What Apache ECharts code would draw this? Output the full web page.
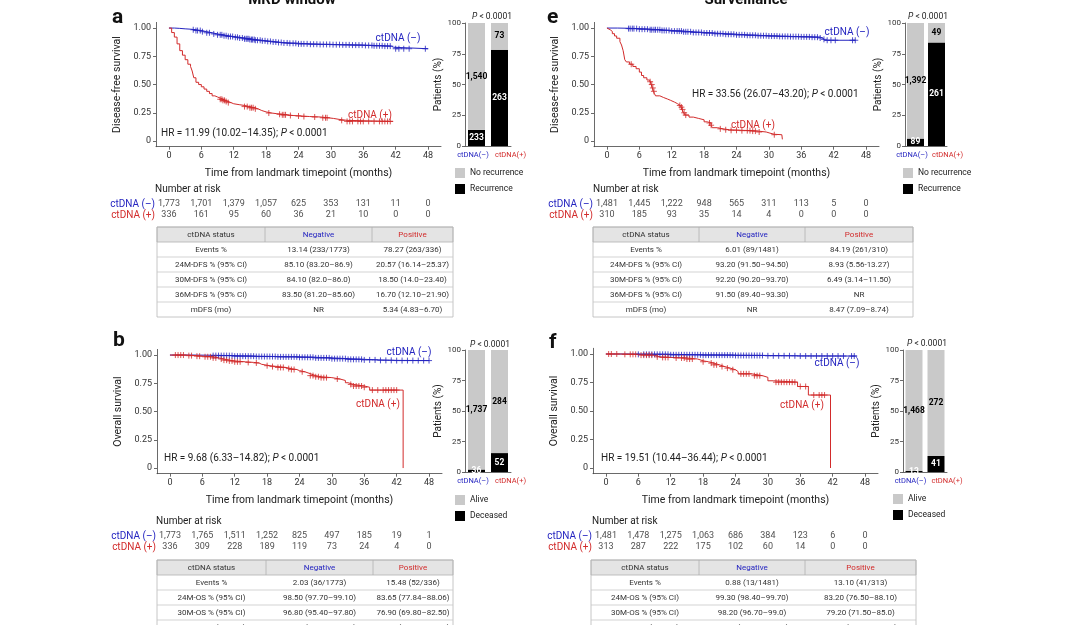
<!DOCTYPE html>
<html>
<head>
<meta charset="utf-8">
<script src="https://cdn.jsdelivr.net/npm/echarts/dist/echarts.min.js"></script>
<style>
html, body { margin: 0; padding: 0; background: #fff; }
#chart { width: 1070px; height: 625px; }
</style>
</head>
<body>
<div id="chart"></div>
<script>
var FF = 'Roboto, "Noto Sans", sans-serif'
var BLUE = '#2424c0'
var RED = '#d22b2b'
var GREY = '#c9c9c9'
var AX = '#444'

var monthTicks = [0, 6, 12, 18, 24, 30, 36, 42, 48]
var survTicks = [0, 0.25, 0.5, 0.75, 1]
var riskGroups = ['ctDNA (–)', 'ctDNA (+)']
var barGroups = ['ctDNA(–)', 'ctDNA(+)']

// ---- a: DFS, MRD window ----
var dfsMrdNeg = [[0, 1], [1, 0.997], [2, 0.993], [3, 0.99], [4, 0.985], [5, 0.978], [6, 0.968], [7, 0.958], [8, 0.948], [9, 0.94], [10, 0.932], [11, 0.925], [12, 0.918], [13, 0.912], [14, 0.905], [15, 0.898], [16, 0.892], [17, 0.887], [18, 0.882], [19, 0.877], [20, 0.872], [21, 0.868], [22, 0.865], [24, 0.86], [26, 0.857], [28, 0.855], [30, 0.853], [32, 0.851], [34, 0.849], [36, 0.846], [38, 0.843], [40, 0.84], [41.2, 0.83], [41.6, 0.817], [48, 0.817]]
var dfsMrdNegCens = [4.5, 5, 5.3, 5.8, 6.2, 7, 7.5, 8.3, 9, 9.5, 9.8, 10.2, 10.6, 11, 11.4, 11.8, 12.3, 12.7, 13.1, 13.6, 14, 14.3, 14.5, 14.8, 15, 15.3, 15.5, 15.8, 16, 16.4, 16.9, 17.3, 17.8, 18.3, 18.8, 19.3, 19.8, 20.3, 20.8, 21.3, 21.9, 22.4, 23, 23.5, 24, 24.5, 25, 25.6, 26.2, 26.8, 27.4, 28, 28.6, 29.2, 29.8, 30.4, 31, 31.6, 32.2, 32.8, 33.4, 34, 34.6, 35.2, 35.8, 36.4, 37, 37.6, 38, 38.5, 39, 39.5, 40, 40.5, 41, 42, 42.6, 43.5, 44.5, 47.5]
var dfsMrdPos = [[0, 1], [0.5, 0.96], [1, 0.92], [1.5, 0.86], [2, 0.8], [2.5, 0.76], [3, 0.72], [3.5, 0.68], [4, 0.66], [4.3, 0.62], [4.6, 0.56], [5, 0.52], [5.5, 0.5], [6, 0.48], [6.5, 0.46], [7, 0.44], [7.5, 0.42], [8, 0.4], [8.5, 0.39], [9, 0.38], [9.5, 0.37], [10, 0.36], [10.5, 0.35], [11, 0.34], [11.5, 0.33], [12, 0.322], [13, 0.315], [14, 0.305], [15, 0.295], [15.8, 0.285], [16.5, 0.27], [17.2, 0.258], [18, 0.248], [19, 0.242], [20, 0.237], [21, 0.232], [22, 0.226], [23, 0.222], [24.5, 0.217], [26, 0.213], [28, 0.206], [29.5, 0.2], [30.5, 0.192], [31.5, 0.183], [33, 0.174], [41.5, 0.174]]
var dfsMrdPosCens = [9.5, 9.8, 10, 10.3, 10.6, 11, 14, 14.5, 15, 15.3, 15.6, 16, 18.5, 20.5, 21, 21.3, 21.6, 22.5, 24, 25, 27, 28.5, 29, 29.3, 32, 33, 33.5, 34, 35, 35.5, 36, 37, 38, 39, 39.5, 40, 40.5, 41]
var riskDfsMrdNeg = [1773, 1701, 1379, 1057, 625, 353, 131, 11, 0]
var riskDfsMrdPos = [336, 161, 95, 60, 36, 21, 10, 0, 0]
var barDfsMrdEvents = [233, 263]
var barDfsMrdFree = [1540, 73]
var tableDfsMrd = [
  ['Events %', '13.14 (233/1773)', '78.27 (263/336)'],
  ['24M-DFS % (95% CI)', '85.10 (83.20–86.9)', '20.57 (16.14–25.37)'],
  ['30M-DFS % (95% CI)', '84.10 (82.0–86.0)', '18.50 (14.0–23.40)'],
  ['36M-DFS % (95% CI)', '83.50 (81.20–85.60)', '16.70 (12.10–21.90)'],
  ['mDFS (mo)', 'NR', '5.34 (4.83–6.70)']
]

// ---- e: DFS, surveillance ----
var dfsSurvNeg = [[0, 1], [2, 0.998], [4, 0.995], [6, 0.99], [8, 0.985], [10, 0.979], [12, 0.973], [14, 0.967], [16, 0.961], [18, 0.956], [20, 0.95], [22, 0.945], [24, 0.94], [26, 0.936], [28, 0.932], [30, 0.929], [32, 0.926], [34, 0.924], [36, 0.922], [38, 0.919], [39.5, 0.912], [40, 0.9], [40.3, 0.892], [46, 0.892]]
var dfsSurvNegCens = [4, 4.3, 4.7, 5, 5.5, 6, 6.5, 7, 7.5, 8, 8.3, 8.7, 9, 9.4, 9.8, 10.2, 10.6, 11, 11.5, 12, 12.5, 13, 13.4, 13.8, 14.2, 14.6, 15, 15.5, 16, 16.5, 17, 17.5, 18, 18.5, 19, 19.5, 20, 20.5, 21, 21.5, 22, 22.5, 23, 23.5, 24, 24.5, 25, 25.5, 26, 26.5, 27, 27.5, 28, 28.5, 29, 29.5, 30, 30.5, 31, 31.5, 32, 32.5, 33, 33.5, 34, 34.5, 35, 35.5, 36, 36.5, 37, 37.5, 38, 38.5, 39, 39.5, 40.2, 40.8, 41.5, 42.3, 45.5, 46]
var dfsSurvPos = [[0, 1], [0.3, 0.985], [0.6, 0.97], [1, 0.95], [1.4, 0.93], [1.8, 0.91], [2.4, 0.88], [2.7, 0.85], [3, 0.8], [3.3, 0.72], [3.6, 0.7], [4.2, 0.68], [4.8, 0.66], [5.4, 0.64], [6, 0.61], [6.4, 0.58], [6.8, 0.56], [7.4, 0.54], [7.9, 0.525], [8.2, 0.5], [8.4, 0.47], [8.6, 0.44], [8.8, 0.42], [9, 0.4], [9.8, 0.385], [10.5, 0.372], [11.2, 0.36], [11.8, 0.345], [12.5, 0.33], [13.1, 0.315], [13.6, 0.3], [13.9, 0.28], [14.2, 0.25], [14.5, 0.23], [15.2, 0.212], [16, 0.2], [17, 0.188], [18, 0.17], [18.6, 0.16], [19.3, 0.14], [19.5, 0.118], [20.5, 0.108], [21.5, 0.1], [22.7, 0.095], [25, 0.092], [27, 0.088], [28, 0.08], [29.5, 0.07], [30.2, 0.06], [31, 0.056], [32.4, 0.052], [32.5, 0.015]]
var dfsSurvPosCens = [4.5, 8, 8.3, 8.5, 8.7, 13.5, 13.8, 14, 14.3, 14.6, 19, 19.3, 21, 22, 23, 24, 25, 26, 26.5, 27, 27.5, 28.2, 31]
var riskDfsSurvNeg = [1481, 1445, 1222, 948, 565, 311, 113, 5, 0]
var riskDfsSurvPos = [310, 185, 93, 35, 14, 4, 0, 0, 0]
var barDfsSurvEvents = [89, 261]
var barDfsSurvFree = [1392, 49]
var tableDfsSurv = [
  ['Events %', '6.01 (89/1481)', '84.19 (261/310)'],
  ['24M-DFS % (95% CI)', '93.20 (91.50–94.50)', '8.93 (5.56-13.27)'],
  ['30M-DFS % (95% CI)', '92.20 (90.20–93.70)', '6.49 (3.14–11.50)'],
  ['36M-DFS % (95% CI)', '91.50 (89.40–93.30)', 'NR'],
  ['mDFS (mo)', 'NR', '8.47 (7.09–8.74)']
]

// ---- b: OS, MRD window ----
var osMrdNeg = [[0, 1], [4, 0.998], [8, 0.995], [12, 0.99], [16, 0.987], [20, 0.984], [24, 0.98], [27, 0.975], [30, 0.968], [33, 0.962], [36, 0.957], [39, 0.953], [42, 0.951], [48, 0.951]]
var osMrdNegCens = [8, 8.5, 9, 9.5, 10, 10.5, 11, 11.5, 12, 12.5, 13, 13.5, 14, 14.5, 15, 15.5, 16, 16.5, 17, 17.5, 18, 18.5, 19, 19.5, 20, 20.5, 21, 21.5, 22, 22.5, 23, 23.5, 24, 24.5, 25, 25.5, 26, 26.5, 27, 27.5, 28, 28.5, 29, 29.5, 30, 30.5, 31, 31.5, 32, 32.5, 33, 33.5, 34, 34.5, 35, 35.5, 36, 37, 38, 39, 40, 41, 42, 43, 44, 45, 46, 47, 48]
var osMrdPos = [[0, 1], [3, 0.995], [5, 0.99], [6, 0.985], [8, 0.975], [9, 0.965], [10, 0.955], [11, 0.948], [12, 0.94], [14, 0.935], [15.5, 0.93], [16.5, 0.918], [17, 0.906], [18.5, 0.898], [20, 0.89], [21.5, 0.88], [22.5, 0.872], [23.5, 0.862], [24, 0.852], [25, 0.835], [26, 0.818], [27, 0.808], [28, 0.8], [30, 0.788], [31.5, 0.775], [32.5, 0.755], [33, 0.74], [34, 0.726], [36, 0.715], [37, 0.69], [43.2, 0]]
var osMrdPosCens = [1, 1.5, 2, 2.5, 3.5, 4, 5, 5.5, 6.5, 7, 7.5, 8, 8.5, 9.5, 10, 10.5, 11, 11.5, 12, 12.5, 13, 14.5, 16, 18, 19, 20, 20.5, 21, 22, 22.5, 23, 24.5, 26, 26.5, 27, 27.5, 28, 28.5, 29, 31, 33.5, 34, 34.5, 35, 35.5, 36, 37.5, 38.5, 39.5, 40, 40.5, 41, 41.5, 42]
var riskOsMrdNeg = [1773, 1765, 1511, 1252, 825, 497, 185, 19, 1]
var riskOsMrdPos = [336, 309, 228, 189, 119, 73, 24, 4, 0]
var barOsMrdEvents = [36, 52]
var barOsMrdFree = [1737, 284]
var tableOsMrd = [
  ['Events %', '2.03 (36/1773)', '15.48 (52/336)'],
  ['24M-OS % (95% CI)', '98.50 (97.70–99.10)', '83.65 (77.84–88.06)'],
  ['30M-OS % (95% CI)', '96.80 (95.40–97.80)', '76.90 (69.80–82.50)'],
  ['36M-OS % (95% CI)', '95.70 (93.90–97.00)', '71.50 (63.60–78.00)']
]

// ---- f: OS, surveillance ----
var osSurvNeg = [[0, 1], [6, 0.997], [12, 0.993], [18, 0.99], [24, 0.987], [30, 0.984], [36, 0.982], [46.5, 0.982]]
var osSurvNegCens = [6, 7, 7.5, 8, 8.5, 9, 9.5, 10, 10.5, 11, 11.5, 12, 12.5, 13, 13.5, 14, 14.5, 15, 15.5, 16, 16.5, 17, 17.5, 18, 18.5, 19, 19.5, 20, 20.5, 21, 21.5, 22, 22.5, 23, 23.5, 24, 24.5, 25, 25.5, 26, 26.5, 27, 27.5, 28, 28.5, 29, 30, 31, 32, 33, 34, 35, 36, 37, 38, 39, 40, 41, 42, 43, 44, 45.5, 46]
var osSurvPos = [[0, 1], [3, 0.997], [6, 0.99], [9, 0.975], [10, 0.97], [12, 0.965], [15, 0.956], [17, 0.94], [18, 0.932], [19, 0.92], [20, 0.905], [21, 0.89], [22, 0.876], [23, 0.862], [24, 0.845], [24.5, 0.826], [27, 0.81], [29, 0.795], [30, 0.765], [31, 0.753], [35.5, 0.715], [37.5, 0.64], [41.6, 0]]
var osSurvPosCens = [0.5, 1, 2, 3.5, 4.5, 5, 5.5, 6.5, 7, 7.5, 8, 8.5, 9.5, 10.5, 11, 11.5, 13, 14, 14.5, 15, 15.5, 16, 18, 19.5, 20, 20.5, 21.5, 22.5, 23.5, 25, 25.5, 26, 26.5, 27.5, 28, 28.5, 31.5, 32, 32.5, 33, 33.5, 34, 34.5, 35, 36, 37, 38.5, 39.5, 40, 40.5]
var riskOsSurvNeg = [1481, 1478, 1275, 1063, 686, 384, 123, 6, 0]
var riskOsSurvPos = [313, 287, 222, 175, 102, 60, 14, 0, 0]
var barOsSurvEvents = [13, 41]
var barOsSurvFree = [1468, 272]
var tableOsSurv = [
  ['Events %', '0.88 (13/1481)', '13.10 (41/313)'],
  ['24M-OS % (95% CI)', '99.30 (98.40–99.70)', '83.20 (76.50–88.10)'],
  ['30M-OS % (95% CI)', '98.20 (96.70–99.0)', '79.20 (71.50–85.0)'],
  ['36M-OS % (95% CI)', '97.30 (96.00–98.20)', '73.30 (67.70–80.10)']
]
var tableHeader = ['ctDNA status', 'Negative', 'Positive']

var PLUS = 'path://M5,0L5,10M0,5L10,5'

function fmt (n) { return n.toLocaleString('en-US') }
function survAt (steps, t) {
  var s = 1
  for (var i = 0; i < steps.length; i++) {
    if (steps[i][0] <= t) s = steps[i][1]
    else break
  }
  return s
}

var grids = [], xAxes = [], yAxes = [], series = [], graphics = [], legends = []

function txt (x, y, text, o) {
  o = o || {}
  graphics.push({
    type: 'text', x: x, y: y, silent: true,
    style: {
      text: text, fill: o.color || '#222', fontSize: o.size || 10, fontFamily: FF,
      fontWeight: o.weight || 'normal', fontStyle: o.style || 'normal',
      textAlign: o.align || 'left', textVerticalAlign: 'middle', rich: o.rich
    }
  })
}

function addKM (p) {
  grids.push({ left: p.left, top: p.top, width: 285, height: p.h })
  var gi = grids.length - 1
  xAxes.push({
    type: 'value', gridIndex: gi, min: -2.4, max: 50.4,
    name: 'Time from landmark timepoint (months)', nameLocation: 'middle', nameGap: 21,
    nameTextStyle: { fontSize: 10.5, color: '#222', fontFamily: FF },
    axisLine: { onZero: false, lineStyle: { color: AX, width: 0.8 } },
    axisTick: { customValues: monthTicks, length: 3, lineStyle: { color: AX, width: 0.8 } },
    axisLabel: { customValues: monthTicks, fontSize: 9, color: '#333', margin: 5, fontFamily: FF },
    splitLine: { show: false }
  })
  yAxes.push({
    type: 'value', gridIndex: gi, min: -0.05, max: 1.05,
    name: p.yName, nameLocation: 'middle', nameGap: 33,
    nameTextStyle: { fontSize: 10.5, color: '#222', fontFamily: FF },
    axisLine: { show: true, onZero: false, lineStyle: { color: AX, width: 0.8 } },
    axisTick: { show: true, customValues: survTicks, length: 3, lineStyle: { color: AX, width: 0.8 } },
    axisLabel: {
      customValues: survTicks, fontSize: 9, color: '#333', margin: 5, fontFamily: FF,
      formatter: function (v) { return v === 0 ? '0' : v.toFixed(2) }
    },
    splitLine: { show: false }
  })
  var ai = xAxes.length - 1
  var groups = [[p.neg, p.negCens, BLUE], [p.pos, p.posCens, RED]]
  groups.forEach(function (g) {
    series.push({
      type: 'line', xAxisIndex: ai, yAxisIndex: ai, data: g[0], step: 'end',
      symbol: 'none', silent: true, z: 2, lineStyle: { color: g[2], width: 1 }
    })
    series.push({
      type: 'scatter', xAxisIndex: ai, yAxisIndex: ai, silent: true, z: 3,
      data: g[1].map(function (t) { return [t, survAt(g[0], t)] }),
      symbol: PLUS, symbolSize: 6,
      itemStyle: { color: 'rgba(0,0,0,0)', borderColor: g[2], borderWidth: 1 }
    })
  })
}

function addRisk (p) {
  grids.push({ left: p.left, top: p.riskTop, width: 285, height: 22 })
  var gi = grids.length - 1
  xAxes.push({ type: 'value', gridIndex: gi, min: -2.4, max: 50.4, show: false })
  yAxes.push({
    type: 'category', gridIndex: gi, data: riskGroups, inverse: true,
    axisLine: { show: false }, axisTick: { show: false },
    axisLabel: {
      margin: 1, interval: 0,
      formatter: function (v, i) { return '{' + (i ? 'p' : 'n') + '|' + v + '}' },
      rich: {
        n: { color: BLUE, fontSize: 10, fontFamily: FF },
        p: { color: RED, fontSize: 10, fontFamily: FF }
      }
    }
  })
  var ai = xAxes.length - 1;
  [p.riskNeg, p.riskPos].forEach(function (arr, r) {
    series.push({
      type: 'scatter', xAxisIndex: ai, yAxisIndex: ai, symbolSize: 0, silent: true,
      data: arr.map(function (n, j) { return [monthTicks[j], r, n] }),
      label: {
        show: true, position: 'inside', fontSize: 9, color: '#222', fontFamily: FF,
        formatter: function (q) { return fmt(q.value[2]) }
      }
    })
  })
  txt(p.left - 1, p.riskTop - 9.5, 'Number at risk', { size: 10 })
}

function addBar (p) {
  grids.push({ left: p.bl, top: p.bt, width: p.bw, height: p.bh })
  var gi = grids.length - 1
  xAxes.push({
    type: 'category', gridIndex: gi, data: barGroups,
    axisLine: { lineStyle: { color: AX, width: 0.8 } },
    axisTick: { alignWithLabel: true, length: 3, lineStyle: { color: AX, width: 0.8 } },
    axisLabel: {
      interval: 0, margin: 5,
      formatter: function (v, i) { return '{' + (i ? 'p' : 'n') + '|' + v + '}' },
      rich: {
        n: { color: BLUE, fontSize: 7.5, fontFamily: FF, padding: [0, 7, 0, 0] },
        p: { color: RED, fontSize: 7.5, fontFamily: FF, padding: [0, 0, 0, 22] }
      }
    }
  })
  yAxes.push({
    type: 'value', gridIndex: gi, min: 0, max: 100, interval: 25,
    name: 'Patients (%)', nameLocation: 'middle', nameGap: 18,
    nameTextStyle: { fontSize: 10, color: '#222', fontFamily: FF },
    axisLine: { show: true, lineStyle: { color: AX, width: 0.8 } },
    axisTick: { show: true, length: 3, lineStyle: { color: AX, width: 0.8 } },
    axisLabel: { fontSize: 8, color: '#333', margin: 4, fontFamily: FF },
    splitLine: { show: false }
  })
  var ai = xAxes.length - 1
  var tot = p.ev.map(function (e, i) { return e + p.no[i] })
  series.push({
    name: p.evName, type: 'bar', stack: 's' + gi, barWidth: 17, xAxisIndex: ai, yAxisIndex: ai,
    data: p.ev.map(function (e, i) { return e / tot[i] * 100 }),
    itemStyle: { color: '#000' }, silent: true,
    label: {
      show: true, position: 'inside', color: '#fff', fontWeight: 'bold', fontSize: 8.5, fontFamily: FF,
      formatter: function (q) { return fmt(p.ev[q.dataIndex]) }
    }
  })
  series.push({
    name: p.noName, type: 'bar', stack: 's' + gi, barWidth: 17, xAxisIndex: ai, yAxisIndex: ai,
    data: p.no.map(function (e, i) { return e / tot[i] * 100 }),
    itemStyle: { color: GREY }, silent: true,
    label: {
      show: true, position: 'inside', color: '#000', fontWeight: 'bold', fontSize: 8.5, fontFamily: FF,
      formatter: function (q) { return fmt(p.no[q.dataIndex]) }
    }
  })
  legends.push({
    left: p.lgLeft, top: p.lgTop, padding: 0, orient: 'vertical', data: [p.noName, p.evName],
    icon: 'rect', itemWidth: 10, itemHeight: 10, itemGap: 6, selectedMode: false,
    textStyle: { fontSize: 8.5, color: '#222', fontFamily: FF }
  })
  txt(p.pX, p.pY, '{i|P}{n| < 0.0001}', {
    align: 'center',
    rich: {
      i: { fontStyle: 'italic', fontSize: 8.5, fontFamily: FF, fill: '#222' },
      n: { fontSize: 8.5, fontFamily: FF, fill: '#222' }
    }
  })
}

function addTable (x0, c1, c2, x1, y0, rows) {
  var rh = 15
  var n = rows.length + 1
  graphics.push({ type: 'rect', silent: true, shape: { x: x0, y: y0, width: x1 - x0, height: rh }, style: { fill: '#e4e4e4', stroke: '#b0b0b0', lineWidth: 0.8 } })
  graphics.push({ type: 'rect', silent: true, shape: { x: x0, y: y0, width: x1 - x0, height: rh * n }, style: { fill: 'none', stroke: '#b8b8b8', lineWidth: 0.8 } })
  graphics.push({ type: 'line', silent: true, shape: { x1: c1, y1: y0, x2: c1, y2: y0 + rh }, style: { stroke: '#b0b0b0', lineWidth: 0.8 } })
  graphics.push({ type: 'line', silent: true, shape: { x1: c2, y1: y0, x2: c2, y2: y0 + rh }, style: { stroke: '#b0b0b0', lineWidth: 0.8 } })
  for (var r = 2; r < n; r++) {
    graphics.push({ type: 'line', silent: true, shape: { x1: x0, y1: y0 + rh * r, x2: x1, y2: y0 + rh * r }, style: { stroke: '#c8c8c8', lineWidth: 0.8 } })
  }
  var cx = [(x0 + c1) / 2, (c1 + c2) / 2, (c2 + x1) / 2]
  var hc = ['#333', BLUE, RED]
  tableHeader.forEach(function (h, i) { txt(cx[i], y0 + rh / 2, h, { size: 8, align: 'center', color: hc[i] }) })
  rows.forEach(function (row, r) {
    row.forEach(function (c, i) { txt(cx[i], y0 + rh * (r + 1.5), c, { size: 8, align: 'center', color: '#333' }) })
  })
}

var panels = [
  { left: 156, top: 22.4, h: 124.3, yName: 'Disease-free survival', neg: dfsMrdNeg, negCens: dfsMrdNegCens, pos: dfsMrdPos, posCens: dfsMrdPosCens, riskTop: 198.5, riskNeg: riskDfsMrdNeg, riskPos: riskDfsMrdPos },
  { left: 594, top: 22.4, h: 124.3, yName: 'Disease-free survival', neg: dfsSurvNeg, negCens: dfsSurvNegCens, pos: dfsSurvPos, posCens: dfsSurvPosCens, riskTop: 198.5, riskNeg: riskDfsSurvNeg, riskPos: riskDfsSurvPos },
  { left: 157, top: 349.4, h: 124.3, yName: 'Overall survival', neg: osMrdNeg, negCens: osMrdNegCens, pos: osMrdPos, posCens: osMrdPosCens, riskTop: 530.5, riskNeg: riskOsMrdNeg, riskPos: riskOsMrdPos },
  { left: 593, top: 348.3, h: 125.4, yName: 'Overall survival', neg: osSurvNeg, negCens: osSurvNegCens, pos: osSurvPos, posCens: osSurvPosCens, riskTop: 530.5, riskNeg: riskOsSurvNeg, riskPos: riskOsSurvPos }
]
panels.forEach(addKM)
panels.forEach(addRisk)

addBar({ bl: 465, bt: 23, bw: 46, bh: 123, ev: barDfsMrdEvents, no: barDfsMrdFree, evName: 'Recurrence', noName: 'No recurrence', lgLeft: 455, lgTop: 168, pX: 492, pY: 17 })
addBar({ bl: 905, bt: 23, bw: 42, bh: 123, ev: barDfsSurvEvents, no: barDfsSurvFree, evName: 'Recurrence', noName: 'No recurrence', lgLeft: 903, lgTop: 168, pX: 928, pY: 17 })
addBar({ bl: 465, bt: 350, bw: 46, bh: 122, ev: barOsMrdEvents, no: barOsMrdFree, evName: 'Deceased', noName: 'Alive', lgLeft: 455, lgTop: 495, pX: 490, pY: 345 })
addBar({ bl: 903, bt: 350, bw: 44, bh: 122, ev: barOsSurvEvents, no: barOsSurvFree, evName: 'Deceased', noName: 'Alive', lgLeft: 893, lgTop: 494, pX: 927, pY: 344 })

addTable(157, 265, 372, 453, 227, tableDfsMrd)
addTable(593, 699, 805, 913, 227, tableDfsSurv)
addTable(157, 266, 373, 453, 560, tableOsMrd)
addTable(591, 699, 805, 916, 560, tableOsSurv)

// titles, panel letters, curve labels, hazard ratios
txt(292, 0, 'MRD window', { size: 15, weight: 'bold', align: 'center', color: '#111' })
txt(746, 0, 'Surveillance', { size: 15, weight: 'bold', align: 'center', color: '#111' })
txt(112, 18, 'a', { size: 21, weight: 'bold', color: '#111' })
txt(547, 18, 'e', { size: 21, weight: 'bold', color: '#111' })
txt(113, 341, 'b', { size: 21, weight: 'bold', color: '#111' })
txt(549, 343, 'f', { size: 21, weight: 'bold', color: '#111' })

txt(398, 38, 'ctDNA (–)', { color: BLUE, align: 'center' })
txt(370, 115, 'ctDNA (+)', { color: RED, align: 'center' })
txt(847, 32, 'ctDNA (–)', { color: BLUE, align: 'center' })
txt(753, 125, 'ctDNA (+)', { color: RED, align: 'center' })
txt(409, 352, 'ctDNA (–)', { color: BLUE, align: 'center' })
txt(378, 404, 'ctDNA (+)', { color: RED, align: 'center' })
txt(837, 363, 'ctDNA (–)', { color: BLUE, align: 'center' })
txt(802, 405, 'ctDNA (+)', { color: RED, align: 'center' })

var hrRich = {
  n: { fontSize: 10, fontFamily: FF, fill: '#222' },
  i: { fontSize: 10, fontFamily: FF, fill: '#222', fontStyle: 'italic' }
}
txt(161, 133, '{n|HR = 11.99 (10.02–14.35); }{i|P}{n| < 0.0001}', { rich: hrRich })
txt(692, 94, '{n|HR = 33.56 (26.07–43.20); }{i|P}{n| < 0.0001}', { rich: hrRich })
txt(164, 458, '{n|HR = 9.68 (6.33–14.82); }{i|P}{n| < 0.0001}', { rich: hrRich })
txt(601, 458, '{n|HR = 19.51 (10.44–36.44); }{i|P}{n| < 0.0001}', { rich: hrRich })

var chart = echarts.init(document.getElementById('chart'))
chart.setOption({
  animation: false,
  backgroundColor: '#fff',
  textStyle: { fontFamily: FF },
  grid: grids,
  xAxis: xAxes,
  yAxis: yAxes,
  legend: legends,
  series: series,
  graphic: graphics
})
</script>
</body>
</html>
